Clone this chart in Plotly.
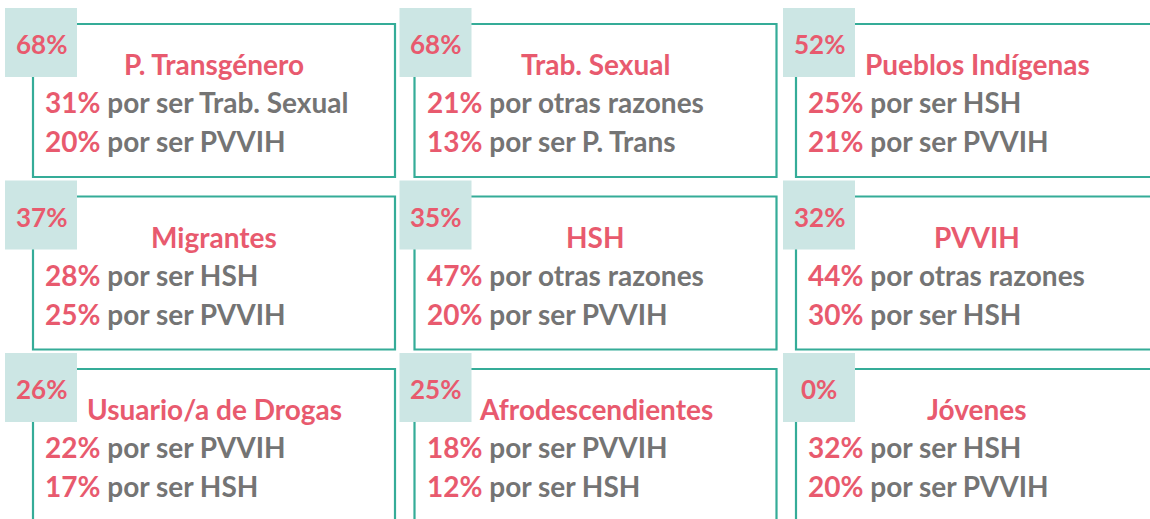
import plotly.graph_objects as go

# ---- data ----
groups = ["P. Transgénero", "Trab. Sexual", "Pueblos Indígenas",
          "Migrantes", "HSH", "PVVIH",
          "Usuario/a de Drogas", "Afrodescendientes", "Jóvenes"]
overall_pct = [68, 68, 52, 37, 35, 32, 26, 25, 0]
reason1_pct = [31, 21, 25, 28, 47, 44, 22, 18, 32]
reason1_label = ["por ser Trab. Sexual", "por otras razones", "por ser HSH",
                 "por ser HSH", "por otras razones", "por otras razones",
                 "por ser PVVIH", "por ser PVVIH", "por ser HSH"]
reason2_pct = [20, 13, 21, 25, 20, 30, 17, 12, 20]
reason2_label = ["por ser PVVIH", "por ser P. Trans", "por ser PVVIH",
                 "por ser PVVIH", "por ser PVVIH", "por ser HSH",
                 "por ser HSH", "por ser HSH", "por ser PVVIH"]

# ---- layout / style ----
W, H = 1150, 519
n_cols = 3
box_x0 = 33
box_y0 = 24
col_step = 381.5
row_step = 172.5
box_w = 362
box_h = 153
badge_dx_by_col = [-28, -15, -13]
badge_dy = -16
badge_w, badge_h = 72, 69

PINK = "#E85A6E"
GREY = "#747474"
TEAL = "#35AC98"
BADGE = "#CCE6E4"
FONT = "Lato"

fig = go.Figure()
fig.add_trace(go.Scatter(x=[0, W], y=[0, H], mode="markers",
                         marker=dict(opacity=0), hoverinfo="skip", showlegend=False))

shapes = []
annotations = []
for i, g in enumerate(groups):
    r, c = divmod(i, n_cols)
    x0 = box_x0 + c * col_step
    y0 = box_y0 + r * row_step
    shapes.append(dict(type="rect", xref="x", yref="y", x0=x0, x1=x0 + box_w,
                       y0=y0, y1=y0 + box_h, line=dict(color=TEAL, width=2.2),
                       fillcolor="rgba(0,0,0,0)", layer="above"))
    bx0 = x0 + badge_dx_by_col[c]
    by0 = y0 + badge_dy
    shapes.append(dict(type="rect", xref="x", yref="y", x0=bx0, x1=bx0 + badge_w,
                       y0=by0, y1=by0 + badge_h, line=dict(width=0),
                       fillcolor=BADGE, layer="above"))
    annotations.append(dict(x=bx0 + badge_w / 2, y=y0 + 20, xref="x", yref="y",
                            text=f"<b>{overall_pct[i]}%</b>", showarrow=False,
                            xanchor="center", yanchor="middle",
                            font=dict(family=FONT, size=26, color=PINK)))
    annotations.append(dict(x=x0 + box_w / 2, y=y0 + 40, xref="x", yref="y",
                            text=f"<b>{g}</b>", showarrow=False,
                            xanchor="center", yanchor="middle",
                            font=dict(family=FONT, size=28, color=PINK)))
    for k, (p, lab) in enumerate([(reason1_pct[i], reason1_label[i]),
                                  (reason2_pct[i], reason2_label[i])]):
        annotations.append(dict(
            x=x0 + 10, y=y0 + 78 + 39 * k, xref="x", yref="y",
            text=f"<b><span style='color:{PINK}'>{p}%</span> {lab}</b>",
            showarrow=False, xanchor="left", yanchor="middle",
            font=dict(family=FONT, size=28, color=GREY)))

fig.update_layout(
    width=W, height=H,
    margin=dict(l=0, r=0, t=0, b=0),
    paper_bgcolor="white", plot_bgcolor="white",
    xaxis=dict(range=[0, W], visible=False, fixedrange=True),
    yaxis=dict(range=[H, 0], visible=False, fixedrange=True),
    shapes=shapes, annotations=annotations,
    showlegend=False,
)
fig.write_html("out.html", config={"displayModeBar": False},
               post_script="document.body.style.margin='0';document.body.style.overflow='hidden';")
